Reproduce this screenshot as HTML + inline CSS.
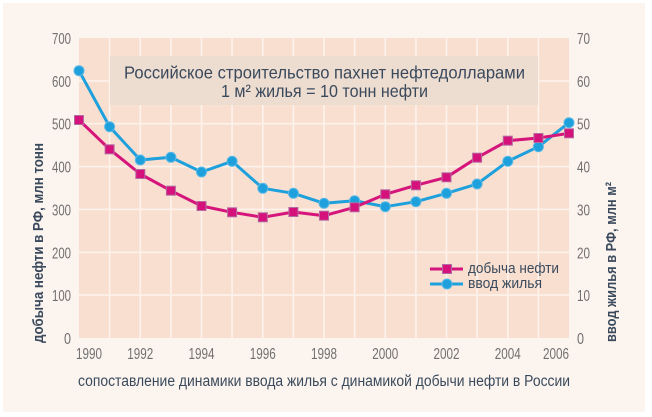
<!DOCTYPE html>
<html><head><meta charset="utf-8"><style>
html,body{margin:0;padding:0;background:#fff;}
svg{display:block;}
text{font-family:"Liberation Sans",sans-serif;}
</style></head><body>
<svg width="652" height="417" viewBox="0 0 652 417" xmlns="http://www.w3.org/2000/svg">
<rect x="3" y="3" width="642" height="409" fill="#fcf4ef"/>
<rect x="79" y="38" width="490" height="300" fill="#f8dfd0"/>
<g stroke="#fdf3ec" stroke-width="1.6">
<line x1="79" y1="80.9" x2="569" y2="80.9"/>
<line x1="79" y1="123.7" x2="569" y2="123.7"/>
<line x1="79" y1="166.6" x2="569" y2="166.6"/>
<line x1="79" y1="209.4" x2="569" y2="209.4"/>
<line x1="79" y1="252.3" x2="569" y2="252.3"/>
<line x1="79" y1="295.1" x2="569" y2="295.1"/>
<line x1="109.6" y1="38" x2="109.6" y2="338"/>
<line x1="140.3" y1="38" x2="140.3" y2="338"/>
<line x1="170.9" y1="38" x2="170.9" y2="338"/>
<line x1="201.5" y1="38" x2="201.5" y2="338"/>
<line x1="232.1" y1="38" x2="232.1" y2="338"/>
<line x1="262.8" y1="38" x2="262.8" y2="338"/>
<line x1="293.4" y1="38" x2="293.4" y2="338"/>
<line x1="324" y1="38" x2="324" y2="338"/>
<line x1="354.6" y1="38" x2="354.6" y2="338"/>
<line x1="385.3" y1="38" x2="385.3" y2="338"/>
<line x1="415.9" y1="38" x2="415.9" y2="338"/>
<line x1="446.5" y1="38" x2="446.5" y2="338"/>
<line x1="477.1" y1="38" x2="477.1" y2="338"/>
<line x1="507.8" y1="38" x2="507.8" y2="338"/>
<line x1="538.4" y1="38" x2="538.4" y2="338"/>
</g>
<rect x="110" y="56" width="428" height="49" fill="#eddcd0"/>
<text x="324.5" y="78.5" font-size="17.5" fill="#3a4a5c" text-anchor="middle" textLength="401" lengthAdjust="spacingAndGlyphs">Российское строительство пахнет нефтедолларами</text>
<text x="324.5" y="97" font-size="17.5" fill="#3a4a5c" text-anchor="middle" textLength="207" lengthAdjust="spacingAndGlyphs">1 м² жилья = 10 тонн нефти</text>

<!-- left tick labels -->
<g font-size="16" fill="#707070" text-anchor="end">
<text x="71" y="44" textLength="19" lengthAdjust="spacingAndGlyphs">700</text>
<text x="71" y="86.9" textLength="19" lengthAdjust="spacingAndGlyphs">600</text>
<text x="71" y="129.7" textLength="19" lengthAdjust="spacingAndGlyphs">500</text>
<text x="71" y="172.6" textLength="19" lengthAdjust="spacingAndGlyphs">400</text>
<text x="71" y="215.4" textLength="19" lengthAdjust="spacingAndGlyphs">300</text>
<text x="71" y="258.3" textLength="19" lengthAdjust="spacingAndGlyphs">200</text>
<text x="71" y="301.1" textLength="19" lengthAdjust="spacingAndGlyphs">100</text>
<text x="71" y="344" textLength="7" lengthAdjust="spacingAndGlyphs">0</text>
</g>
<g font-size="16" fill="#707070" text-anchor="start">
<text x="577" y="44" textLength="13" lengthAdjust="spacingAndGlyphs">70</text>
<text x="577" y="86.9" textLength="13" lengthAdjust="spacingAndGlyphs">60</text>
<text x="577" y="129.7" textLength="13" lengthAdjust="spacingAndGlyphs">50</text>
<text x="577" y="172.6" textLength="13" lengthAdjust="spacingAndGlyphs">40</text>
<text x="577" y="215.4" textLength="13" lengthAdjust="spacingAndGlyphs">30</text>
<text x="577" y="258.3" textLength="13" lengthAdjust="spacingAndGlyphs">20</text>
<text x="577" y="301.1" textLength="13" lengthAdjust="spacingAndGlyphs">10</text>
<text x="577" y="344" textLength="7" lengthAdjust="spacingAndGlyphs">0</text>
</g>
<g font-size="16" fill="#707070" text-anchor="middle">
<text x="89" y="359" textLength="26" lengthAdjust="spacingAndGlyphs">1990</text>
<text x="140.3" y="359" textLength="26" lengthAdjust="spacingAndGlyphs">1992</text>
<text x="201.5" y="359" textLength="26" lengthAdjust="spacingAndGlyphs">1994</text>
<text x="262.8" y="359" textLength="26" lengthAdjust="spacingAndGlyphs">1996</text>
<text x="324" y="359" textLength="26" lengthAdjust="spacingAndGlyphs">1998</text>
<text x="385.3" y="359" textLength="26" lengthAdjust="spacingAndGlyphs">2000</text>
<text x="446.5" y="359" textLength="26" lengthAdjust="spacingAndGlyphs">2002</text>
<text x="507.8" y="359" textLength="26" lengthAdjust="spacingAndGlyphs">2004</text>
<text x="556" y="359" textLength="26" lengthAdjust="spacingAndGlyphs">2006</text>
</g>

<text x="324" y="386" font-size="15.5" fill="#3a4a5c" text-anchor="middle" textLength="492" lengthAdjust="spacingAndGlyphs">сопоставление динамики ввода жилья с динамикой добычи нефти в России</text>
<text transform="translate(43,243) rotate(-90)" font-size="15" font-weight="bold" fill="#3a4a5c" text-anchor="middle" textLength="200" lengthAdjust="spacingAndGlyphs">добыча нефти в РФ, млн тонн</text>
<text transform="translate(616,262) rotate(-90)" font-size="15" font-weight="bold" fill="#3a4a5c" text-anchor="middle" textLength="160" lengthAdjust="spacingAndGlyphs">ввод жилья в РФ, млн м²</text>

<!-- blue series -->
<polyline fill="none" stroke="#1ea0dc" stroke-width="3" stroke-linejoin="round" points="79,70.7 109.6,126.7 140.3,160 170.9,157.3 201.5,172 232.1,161.3 262.8,188.3 293.4,193.3 324,203.3 354.6,200.7 385.3,206.7 415.9,201.7 446.5,193.3 477.1,184 507.8,161.3 538.4,146.7 569,122.7"/>
<!-- magenta series -->
<polyline fill="none" stroke="#d5157b" stroke-width="3" stroke-linejoin="round" points="79,120 109.6,149.3 140.3,174 170.9,190.7 201.5,206 232.1,212.3 262.8,217.3 293.4,212 324,215.7 354.6,207.3 385.3,194.3 415.9,185.3 446.5,177.3 477.1,157.7 507.8,140.7 538.4,138 569,133.3"/>
<g fill="#1ea0dc" stroke="#5ab9e6" stroke-width="1">
<circle cx="79" cy="70.7" r="5"/><circle cx="109.6" cy="126.7" r="5"/><circle cx="140.3" cy="160" r="5"/><circle cx="170.9" cy="157.3" r="5"/><circle cx="201.5" cy="172" r="5"/><circle cx="232.1" cy="161.3" r="5"/><circle cx="262.8" cy="188.3" r="5"/><circle cx="293.4" cy="193.3" r="5"/><circle cx="324" cy="203.3" r="5"/><circle cx="354.6" cy="200.7" r="5"/><circle cx="385.3" cy="206.7" r="5"/><circle cx="415.9" cy="201.7" r="5"/><circle cx="446.5" cy="193.3" r="5"/><circle cx="477.1" cy="184" r="5"/><circle cx="507.8" cy="161.3" r="5"/><circle cx="538.4" cy="146.7" r="5"/><circle cx="569" cy="122.7" r="5"/>
</g>
<g fill="#d5127b" stroke="#b46aa2" stroke-width="1">
<rect x="74.5" y="115.5" width="9" height="9"/><rect x="105.1" y="144.8" width="9" height="9"/><rect x="135.8" y="169.5" width="9" height="9"/><rect x="166.4" y="186.2" width="9" height="9"/><rect x="197" y="201.5" width="9" height="9"/><rect x="227.6" y="207.8" width="9" height="9"/><rect x="258.3" y="212.8" width="9" height="9"/><rect x="288.9" y="207.5" width="9" height="9"/><rect x="319.5" y="211.2" width="9" height="9"/><rect x="350.1" y="202.8" width="9" height="9"/><rect x="380.8" y="189.8" width="9" height="9"/><rect x="411.4" y="180.8" width="9" height="9"/><rect x="442" y="172.8" width="9" height="9"/><rect x="472.6" y="153.2" width="9" height="9"/><rect x="503.3" y="136.2" width="9" height="9"/><rect x="533.9" y="133.5" width="9" height="9"/><rect x="564.5" y="128.8" width="9" height="9"/>
</g>

<!-- legend -->
<line x1="430" y1="269" x2="463" y2="269" stroke="#d5157b" stroke-width="3"/>
<rect x="442.5" y="264.5" width="9" height="9" fill="#d5127b" stroke="#b46aa2" stroke-width="1"/>
<line x1="430" y1="284" x2="463" y2="284" stroke="#1ea0dc" stroke-width="3"/>
<circle cx="447" cy="284" r="5" fill="#1ea0dc" stroke="#5ab9e6" stroke-width="1"/>
<text x="468" y="273" font-size="15" fill="#3a4a5c" textLength="91" lengthAdjust="spacingAndGlyphs">добыча нефти</text>
<text x="468" y="288" font-size="15" fill="#3a4a5c" textLength="74" lengthAdjust="spacingAndGlyphs">ввод жилья</text>
</svg>
</body></html>
